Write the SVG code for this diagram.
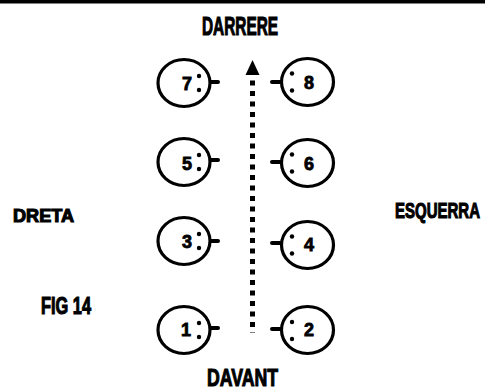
<svg xmlns="http://www.w3.org/2000/svg" width="485" height="389" viewBox="0 0 485 389">
<style>
.c{fill:none;stroke:#000;stroke-width:3.2}
.s{stroke:#000;stroke-width:4;stroke-linecap:round}
.d{fill:#000}
.n{font-family:"Liberation Sans",Arial,sans-serif;font-weight:bold;font-size:18px;text-anchor:middle;fill:#000;stroke:#000;stroke-width:0.8}
.t{font-family:"Liberation Sans",Arial,sans-serif;font-weight:bold;fill:#000;stroke:#000;stroke-width:1.1}
</style>
<rect x="0" y="0" width="485" height="3.5" fill="#000"/>
<text class="t" x="202" y="35" font-size="25" textLength="76" lengthAdjust="spacingAndGlyphs">DARRERE</text>
<text class="t" x="207" y="385.5" font-size="24" textLength="71" lengthAdjust="spacingAndGlyphs">DAVANT</text>
<text class="t" x="13" y="222" font-size="18" textLength="61" lengthAdjust="spacingAndGlyphs">DRETA</text>
<text class="t" x="41" y="314" font-size="23" textLength="50" lengthAdjust="spacingAndGlyphs">FIG 14</text>
<text class="t" x="480" y="218" font-size="22" text-anchor="end" textLength="85" lengthAdjust="spacingAndGlyphs">ESQUERRA</text>
<g id="connectors">
<line x1="252.5" y1="80.5" x2="252.5" y2="333" stroke="#000" stroke-width="5" stroke-dasharray="5 5.5"/>
<polygon points="252.5,60 245.5,75 259.5,75" fill="#000"/>
</g>
<g id="n7"><ellipse class="c" cx="184" cy="83" rx="26" ry="23.5"/><line class="s" x1="211" y1="82" x2="218" y2="82"/><circle class="d" cx="199" cy="76" r="2.2"/><circle class="d" cx="199" cy="90" r="2.2"/><text class="n" x="187" y="90">7</text></g>
<g id="n8"><ellipse class="c" cx="307.5" cy="82" rx="26" ry="23.5"/><line class="s" x1="272" y1="82" x2="280" y2="82"/><circle class="d" cx="292" cy="73.5" r="2.2"/><circle class="d" cx="292" cy="90.5" r="2.2"/><text class="n" x="309" y="89">8</text></g>
<g id="n5"><ellipse class="c" cx="184" cy="162" rx="26" ry="23.5"/><line class="s" x1="211" y1="160" x2="218" y2="160"/><circle class="d" cx="199" cy="155" r="2.2"/><circle class="d" cx="199" cy="169" r="2.2"/><text class="n" x="187" y="170">5</text></g>
<g id="n6"><ellipse class="c" cx="307.5" cy="163" rx="26" ry="23.5"/><line class="s" x1="272" y1="162" x2="280" y2="162"/><circle class="d" cx="292" cy="154.5" r="2.2"/><circle class="d" cx="292" cy="171.5" r="2.2"/><text class="n" x="309" y="170">6</text></g>
<g id="n3"><ellipse class="c" cx="184" cy="241" rx="26" ry="23.5"/><line class="s" x1="211" y1="241" x2="218" y2="241"/><circle class="d" cx="199" cy="234" r="2.2"/><circle class="d" cx="199" cy="248" r="2.2"/><text class="n" x="187" y="248">3</text></g>
<g id="n4"><ellipse class="c" cx="307.5" cy="245" rx="26" ry="23.5"/><line class="s" x1="272" y1="243" x2="280" y2="243"/><circle class="d" cx="292" cy="236.5" r="2.2"/><circle class="d" cx="292" cy="253.5" r="2.2"/><text class="n" x="309" y="251">4</text></g>
<g id="n1"><ellipse class="c" cx="184" cy="330" rx="26" ry="23.5"/><line class="s" x1="211" y1="328" x2="218" y2="328"/><circle class="d" cx="199" cy="323" r="2.2"/><circle class="d" cx="199" cy="337" r="2.2"/><text class="n" x="186" y="336">1</text></g>
<g id="n2"><ellipse class="c" cx="307.5" cy="330" rx="26" ry="23.5"/><line class="s" x1="272" y1="329" x2="280" y2="329"/><circle class="d" cx="292" cy="322" r="2.2"/><circle class="d" cx="292" cy="339" r="2.2"/><text class="n" x="309" y="336">2</text></g>
</svg>
